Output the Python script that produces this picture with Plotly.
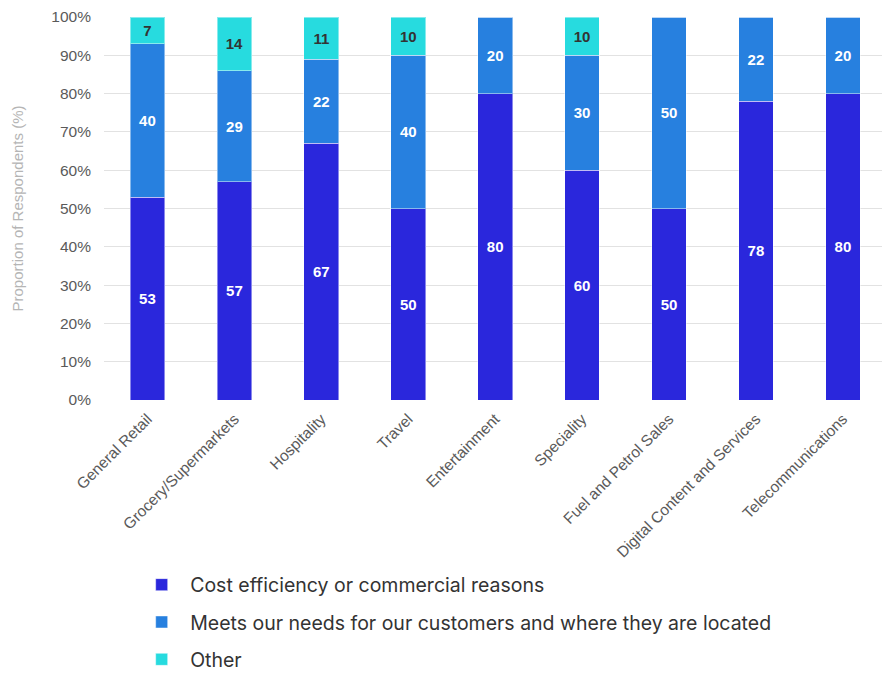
import plotly.graph_objects as go

categories = [
    "General Retail", "Grocery/Supermarkets", "Hospitality", "Travel",
    "Entertainment", "Speciality", "Fuel and Petrol Sales",
    "Digital Content and Services", "Telecommunications",
]
cost_efficiency = [53, 57, 67, 50, 80, 60, 50, 78, 80]
meets_needs = [40, 29, 22, 40, 20, 30, 50, 22, 20]
other = [7, 14, 11, 10, 0, 10, 0, 0, 0]

series = [
    ("Cost efficiency or commercial reasons", cost_efficiency, "#2a27dc", "white"),
    ("Meets our needs for our customers and where they are located", meets_needs, "#2780df", "white"),
    ("Other", other, "#27dbdf", "#333333"),
]

fig = go.Figure()
for i, (name, vals, color, txtcolor) in enumerate(series):
    fig.add_trace(go.Bar(
        x=categories,
        y=vals,
        name=name,
        legendgroup=str(i),
        width=0.4,
        marker=dict(color=color, line=dict(color="rgba(255,255,255,0.45)", width=1)),
        text=[str(v) if v else "" for v in vals],
        textposition="inside",
        insidetextanchor="middle",
        textangle=0,
        constraintext="none",
        textfont=dict(family="Liberation Sans, Arial, sans-serif", size=15, color=txtcolor, weight="bold"),
        hoverinfo="skip",
    ))

fig.update_layout(
    barmode="stack",
    width=882,
    height=673,
    margin=dict(l=104, r=0, t=17, b=273, autoexpand=False),
    plot_bgcolor="white",
    paper_bgcolor="white",
    font=dict(family="Liberation Sans, Arial, sans-serif", color="#555555"),
    xaxis=dict(
        range=[-0.5, 8.45],
        tickangle=-45,
        tickfont=dict(size=15.5, color="#5a5a5a"),
        showgrid=False,
        showline=False,
        ticks="",
        automargin=False,
        ticklabelstandoff=6,
    ),
    yaxis=dict(
        range=[0, 100],
        dtick=10,
        ticksuffix="%",
        tickfont=dict(size=15.5, color="#5a5a5a"),
        gridcolor="#e2e2e2",
        gridwidth=1,
        zeroline=False,
        showline=False,
        ticks="",
        automargin=False,
        ticklabelstandoff=12,
        title=dict(text="Proportion of Respondents (%)",
                   font=dict(size=15, color="#b5b5b5"), standoff=24),
    ),
    legend=dict(
        x=0.0375, y=-0.432, xanchor="left", yanchor="top",
        orientation="v",
        traceorder="grouped",
        tracegroupgap=9,
        itemwidth=47,
        font=dict(family="Inter, Noto Sans, sans-serif", size=19.5, color="#333333"),
        bgcolor="rgba(0,0,0,0)",
    ),
    showlegend=True,
)

fig.write_html("out.html")
